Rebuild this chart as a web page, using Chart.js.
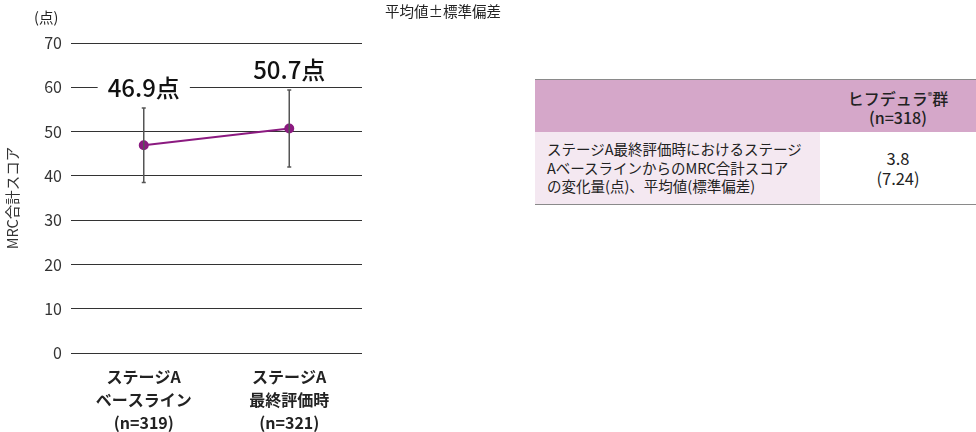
<!DOCTYPE html>
<html>
<head>
<meta charset="utf-8">
<script src="https://cdn.jsdelivr.net/npm/chart.js@4.4.1/dist/chart.umd.min.js"></script>
<style>
  body { margin: 0; background: #fff; font-family: "Noto Sans CJK JP", "Noto Sans", sans-serif; color: #222; }
  #wrap { position: relative; width: 976px; height: 432px; overflow: hidden; }
  #chartBox { position: absolute; left: 0; top: 0; width: 380px; height: 432px; }
  .note { position: absolute; font-size: 14.5px; line-height: 1; white-space: nowrap; }
  table { position: absolute; left: 535px; top: 79px; width: 441px; border-collapse: collapse; font-size: 14.5px; }
  table td { padding: 0; }
  tr.head td { background: #d5a7c9; height: 52px; text-align: center; font-weight: 500; font-size: 16px; line-height: 19px; border-top: 1.5px solid #8a8a8a; }
  tr.body td { height: 72px; border-bottom: 1.5px solid #8a8a8a; }
  td.rowhead { background: #f4e8f1; width: 273px; padding-left: 12px !important; line-height: 18.5px; }
  td.val { text-align: center; font-size: 16.5px; line-height: 20px; }
  sup { font-size: 9px; vertical-align: 6px; }
</style>
</head>
<body>
<div id="wrap">
  <div id="chartBox"><canvas id="mrcChart"></canvas></div>
  <div class="note" style="left:34px; top:10px;">(点)</div>
  <div class="note" style="left:385px; top:4px;">平均値±標準偏差</div>
  <table>
    <tr class="head"><td></td><td>ヒフデュラ<sup>®</sup>群<br>(n=318)</td></tr>
    <tr class="body">
      <td class="rowhead">ステージA最終評価時におけるステージ<br>AベースラインからのMRC合計スコア<br>の変化量(点)、平均値(標準偏差)</td>
      <td class="val">3.8<br>(7.24)</td>
    </tr>
  </table>
</div>
<script>
const categories = [
  ['ステージA', 'ベースライン', '(n=319)'],
  ['ステージA', '最終評価時', '(n=321)'],
];
const meanScores = [46.9, 50.7];
const sdScores = [8.4, 8.7];
const valueLabels = ['46.9点', '50.7点'];
const yTicks = [0, 10, 20, 30, 40, 50, 60, 70];

const FONT = '"Noto Sans CJK JP", "Noto Sans", sans-serif';

const errorBarPlugin = {
  id: 'errorBars',
  afterDatasetsDraw(chart) {
    const ctx = chart.ctx;
    const yScale = chart.scales.y;
    const meta = chart.getDatasetMeta(0);
    ctx.save();
    meta.data.forEach((pt, i) => {
      const top = yScale.getPixelForValue(meanScores[i] + sdScores[i]);
      const bottom = yScale.getPixelForValue(meanScores[i] - sdScores[i]);
      ctx.strokeStyle = '#555';
      ctx.lineWidth = 1.5;
      ctx.beginPath();
      ctx.moveTo(pt.x, top);
      ctx.lineTo(pt.x, bottom);
      ctx.moveTo(pt.x - 2, top);
      ctx.lineTo(pt.x + 2, top);
      ctx.moveTo(pt.x - 2, bottom);
      ctx.lineTo(pt.x + 2, bottom);
      ctx.stroke();

      // value label above the bar, white box hides the grid line
      ctx.font = '500 24px ' + FONT;
      ctx.textAlign = 'center';
      ctx.textBaseline = 'middle';
      const ly = top - 21;
      const w = ctx.measureText(valueLabels[i]).width;
      ctx.fillStyle = '#fff';
      ctx.fillRect(pt.x - w / 2 - 10, ly - 13, w + 20, 26);
      ctx.fillStyle = '#111';
      ctx.fillText(valueLabels[i], pt.x, ly + 1);
    });
    ctx.restore();
  },
};

const context = document.getElementById('mrcChart').getContext('2d');
new Chart(context, {
  type: 'line',
  data: {
    labels: categories,
    datasets: [
      {
        data: meanScores,
        borderColor: '#8b1a80',
        backgroundColor: '#8b1a80',
        borderWidth: 2,
        pointRadius: 4,
        pointHoverRadius: 4,
        tension: 0,
      },
    ],
  },
  options: {
    responsive: true,
    maintainAspectRatio: false,
    animation: false,
    layout: { padding: { top: 43, right: 18, left: 0, bottom: 0 } },
    plugins: { legend: { display: false }, tooltip: { enabled: false } },
    scales: {
      x: {
        offset: true,
        grid: { display: false, drawTicks: false },
        border: { display: false },
        ticks: {
          color: '#222',
          padding: 12,
          font: { family: FONT, size: 16, weight: 'bold', lineHeight: 1.45 },
          maxRotation: 0,
        },
        afterFit(scale) { scale.height = 79; },
      },
      y: {
        min: 0,
        max: 70,
        afterBuildTicks(scale) { scale.ticks = yTicks.map((v) => ({ value: v })); },
        grid: { color: '#333', lineWidth: 1, drawTicks: false },
        border: { display: false },
        ticks: { color: '#333', padding: 9, font: { family: FONT, size: 16 } },
        title: {
          display: true,
          text: 'MRC合計スコア',
          color: '#333',
          padding: { top: 4, bottom: 0 },
          font: { family: FONT, size: 14.5 },
        },
        afterFit(scale) { scale.width = 71; },
      },
    },
  },
  plugins: [errorBarPlugin],
});
</script>
</body>
</html>
